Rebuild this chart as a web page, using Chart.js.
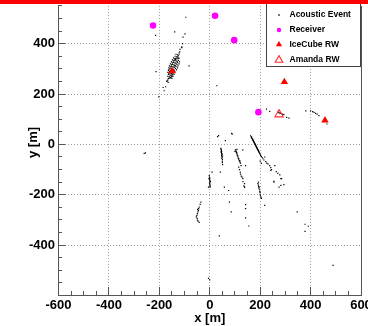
<!DOCTYPE html>
<html><head><meta charset="utf-8">
<script src="https://cdn.jsdelivr.net/npm/chart.js@4/dist/chart.umd.min.js"></script>
<style>html,body{margin:0;padding:0;background:#fff;}canvas{display:block;}</style>
</head><body>
<canvas id="c" width="368" height="326"></canvas>
<script>
// ---- tick labels ----
const xTickLabels = [-600, -400, -200, 0, 200, 400, 600];
const yTickLabels = [-400, -200, 0, 200, 400];

// ---- series names ----
const seriesNames = ['Acoustic Event', 'Receiver', 'IceCube RW', 'Amanda RW'];

// ---- Acoustic events (x, y in m) ----
const evX = [
  -160,-156,-158,-154,-162,-157,-152,-148,-160,-155,-150,-145,-158,-153,-148,-143,-156,-151,-146,-141,-152,-147,-142,-137,-148,-143,-138,-134,-144,-139,-134,-130,-140,-135,-130,-132,-127,-128,-164,-166,-170,-150,-140,-136,-125,-162,-144,
  -166,-152,-164,-150,-166,-144,-164,-140,-136,-162,-134,-160,-130,-156,-128,-152,-124,-148,-122,-144,-138,-124,-134,-158,-150,-146,-142,-138,-132,-128,-126,-122,-120,
  -95,-139,-98,-106,-215,-111,-119,-122,-129,-118,-111,-121,-82,-213,-169,-175,-181,-202,-165,-185,28,-108,
  162,165,167,170,172,174,176,178,180,182,184,186,188,190,192,194,196,198,200,169,173,177,181,185,189,193,166,171,175,179,183,187,191,195,202,205,208,
  211,222,231,238,245,258,278,285,294,275,254,215,226,242,218,200,205,264,270,
  44,45,46,47,46,47,48,47,48,49,48,50,50,45,49,51,50,51,
  102,104,105,106,108,109,110,112,113,114,116,118,120,107,111,115,119,122,108,100,
  115,121,125,131,138,118,128,122,124,132,135,138,
  -2,-1,0,-1,0,1,0,-1,1,0,2,1,-3,3,-5,
  191,193,194,195,197,198,199,200,201,203,196,199,205,193,
  -35,-42,-45,-49,-53,-49,-42,-44,-47,-51,-50,-46,-38,-48,
  270,274,278,282,286,290,294,305,314,225,238,381,400,408,414,420,426,433,465,
  87,31,89,62,131,9,42,58,75,138,78,85,142,142,142,155,38,218,347,378,391,378,489,-255,-5,0,142,242,282,255,282,35,-260
];
const evY = [
  268,266,276,274,282,284,282,280,290,292,290,288,300,302,300,298,308,310,308,306,316,318,316,314,324,326,324,322,332,334,332,330,340,342,340,348,350,356,262,256,250,272,312,338,344,296,296,
  270,268,278,276,286,284,294,292,302,304,310,312,318,320,326,328,334,336,342,344,350,352,358,262,262,270,278,288,296,304,312,320,328,
  505,447,439,426,433,384,368,358,344,377,387,364,312,289,252,229,213,189,246,226,233,400,
  34,28,24,20,16,12,8,4,0,-4,-8,-12,-16,-20,-24,-28,-32,-36,-40,22,14,6,-2,-10,-18,-26,30,18,10,2,-6,-14,-22,-30,-44,-48,-52,
  -57,-68,-77,-84,-100,-84,-121,-136,-160,-170,-147,-62,-74,-92,-50,-66,-75,-108,-115,
  -16,-20,-24,-28,-32,-36,-40,-44,-48,-52,-56,-60,-66,-30,-38,-46,-72,-80,
  -22,-26,-30,-34,-38,-42,-46,-50,-54,-58,-62,-66,-70,-32,-44,-56,-64,-74,-20,-28,
  -90,-110,-126,-136,-156,-100,-130,-118,-84,-148,-165,-170,
  -124,-130,-134,-138,-142,-146,-150,-154,-158,-162,-166,-170,-136,-148,-170,
  -156,-162,-168,-174,-180,-186,-192,-198,-204,-209,-170,-188,-214,-150,
  -229,-249,-262,-275,-288,-301,-310,-255,-268,-282,-294,-305,-238,-258,
  128,126,124,123,121,119,118,107,104,140,131,133,133,130,127,123,120,114,81,
  44,31,41,15,-22,-110,-110,-170,-183,-170,-229,-268,-239,-255,-292,-324,-363,-242,-268,-317,-325,-345,-480,-34,-532,-538,-84,-103,-136,-150,-163,35,-36
];

// ---- Receivers ----
const recX = [-225, 21, 97, 193];
const recY = [472, 511, 414, 128];

// ---- IceCube RW ----
const icX = [-149, 296, 457];
const icY = [291, 248, 96];

// ---- Amanda RW ----
const amX = [275];
const amY = [119];

const pts = (xs, ys) => xs.map((v, i) => ({x: v, y: ys[i]}));

const FONT = '"Liberation Sans", Arial, Helvetica, sans-serif';
const frameColor = '#555';
const gridColor = '#9a9a9a';

function drawMarker(ctx, style, x, y, r, fill, stroke, lw) {
  ctx.beginPath();
  if (style === 'circle') {
    ctx.arc(x, y, r, 0, Math.PI * 2);
  } else if (style === 'triangle') {
    for (let k = 0; k < 3; k++) {
      const a = k * 2 * Math.PI / 3;
      const px = x + Math.sin(a) * r, py = y - Math.cos(a) * r;
      if (k === 0) ctx.moveTo(px, py); else ctx.lineTo(px, py);
    }
    ctx.closePath();
  } else {
    ctx.rect(x - r, y - r, 2 * r, 2 * r);
  }
  if (fill) { ctx.fillStyle = fill; ctx.fill(); }
  if (stroke) { ctx.strokeStyle = stroke; ctx.lineWidth = lw; ctx.stroke(); }
}

const al = v => Math.round(v - 0.5) + 0.5;

const rootPlugin = {
  id: 'rootStyle',
  afterDraw(chart) {
    const {ctx, chartArea: a, scales: {x, y}} = chart;
    ctx.save();
    // right frame
    ctx.strokeStyle = frameColor; ctx.lineWidth = 1;
    ctx.beginPath();
    ctx.moveTo(al(a.right), a.top); ctx.lineTo(al(a.right), a.bottom);
    ctx.stroke();
    // inward ticks on x axis
    ctx.beginPath();
    for (let v = x.min; v <= x.max; v += 50) {
      const p = al(x.getPixelForValue(v));
      const len = (v % 200 === 0) ? 8.5 : 4.5;
      ctx.moveTo(p, a.bottom); ctx.lineTo(p, a.bottom - len);
    }
    // inward ticks on y axis
    for (let v = y.min; v <= y.max; v += 50) {
      const p = al(y.getPixelForValue(v));
      const len = (v % 200 === 0) ? 7 : 3.5;
      ctx.moveTo(a.left, p); ctx.lineTo(a.left + len, p);
    }
    ctx.stroke();

    // y title
    ctx.save();
    ctx.translate(33, 142.5);
    ctx.rotate(-Math.PI / 2);
    ctx.font = 'bold 13px ' + FONT;
    ctx.fillStyle = '#000';
    ctx.textAlign = 'center';
    ctx.textBaseline = 'middle';
    ctx.fillText('y [m]', 0, 0);
    ctx.restore();

    // legend box
    ctx.fillStyle = '#fff';
    ctx.fillRect(266.5, -1, 94, 67.5);
    ctx.strokeStyle = '#444'; ctx.lineWidth = 1;
    ctx.strokeRect(266.5, -1, 94, 67.5);
    const rows = [15, 30, 44.5, 60];
    const ds = chart.data.datasets;
    const legendR = [0.7, 2.2, 3.6, 4.4];
    ds.forEach((d, i) => {
      const yy = rows[i];
      const st = d.pointStyle;
      const hollow = d.backgroundColor === 'rgba(0,0,0,0)';
      drawMarker(ctx, st, 279, yy, legendR[i], hollow ? null : d.backgroundColor,
                 hollow ? d.borderColor : null, d.borderWidth || 1);
      ctx.font = 'bold 8.5px ' + FONT;
      ctx.fillStyle = '#000';
      ctx.textAlign = 'left';
      ctx.textBaseline = 'middle';
      ctx.fillText(d.label, 289.5, yy);
    });

    // red band on top
    ctx.fillStyle = '#ff0000';
    ctx.fillRect(0, 0, chart.width, 4);
    ctx.restore();
  }
};

const tickFont = {family: FONT, size: 13, weight: 'bold'};

new Chart(document.getElementById('c'), {
  type: 'scatter',
  data: {
    datasets: [
      {label: seriesNames[0], data: pts(evX, evY), pointStyle: 'rect', pointRadius: 0.85,
       backgroundColor: '#000', borderWidth: 0, order: 4},
      {label: seriesNames[1], data: pts(recX, recY), pointStyle: 'circle', pointRadius: 3.3,
       backgroundColor: '#ff00ff', borderWidth: 0, order: 2},
      {label: seriesNames[2], data: pts(icX, icY), pointStyle: 'triangle', pointRadius: 4.3,
       backgroundColor: '#ff0000', borderWidth: 0, order: 1},
      {label: seriesNames[3], data: pts(amX, amY), pointStyle: 'triangle', pointRadius: 4.8,
       backgroundColor: 'rgba(0,0,0,0)', borderColor: '#ff3030', borderWidth: 1.1, order: 0}
    ]
  },
  options: {
    responsive: false,
    animation: false,
    devicePixelRatio: 1,
    layout: {padding: {left: 0, right: 7, top: 4.5, bottom: 0}},
    plugins: {legend: {display: false}, tooltip: {enabled: false}},
    elements: {point: {hoverRadius: 0}},
    scales: {
      x: {
        type: 'linear', min: -600, max: 600,
        afterBuildTicks: s => { s.ticks = xTickLabels.map(v => ({value: v})); },
        ticks: {font: tickFont, color: '#000', padding: 2, maxRotation: 0, autoSkip: false},
        grid: {drawTicks: false, lineWidth: 1,
               color: c => (c.tick && Math.abs(c.tick.value) === 600) ? 'rgba(0,0,0,0)' : gridColor},
        border: {display: true, color: frameColor, width: 1, dash: [1, 2]},
        title: {display: true, text: 'x [m]', color: '#000', font: tickFont, padding: {top: 0, bottom: 0}},
        afterFit: s => { s.height = 30.5; s.paddingLeft = 0; s.paddingRight = 0; }
      },
      y: {
        type: 'linear', min: -600, max: 550,
        afterBuildTicks: s => { s.ticks = yTickLabels.map(v => ({value: v})); },
        ticks: {font: tickFont, color: '#000', padding: 3.5, autoSkip: false},
        grid: {drawTicks: false, lineWidth: 1, color: gridColor},
        border: {display: true, color: frameColor, width: 1, dash: [1, 2]},
        afterFit: s => { s.width = 58.5; s.paddingTop = 0; s.paddingBottom = 0; }
      }
    }
  },
  plugins: [rootPlugin]
});
</script>
</body></html>
